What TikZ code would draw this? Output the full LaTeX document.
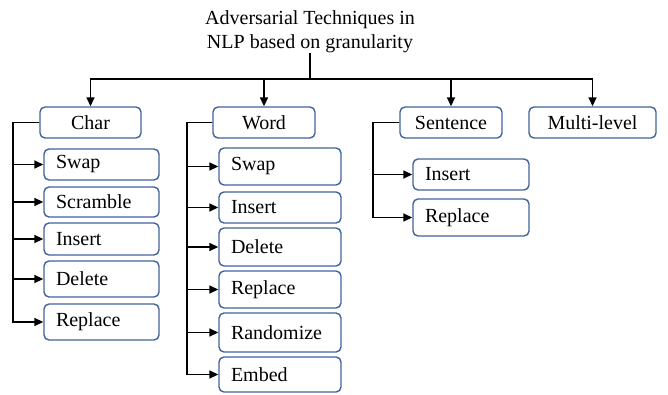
\documentclass[tikz,border=0pt]{standalone}
\usepackage{fontspec}
\setmainfont{Liberation Serif}
\usepackage{tikz}
\usetikzlibrary{arrows.meta}

\definecolor{boxblue}{RGB}{66,98,158}

\begin{document}
\begin{tikzpicture}[x=1pt,y=-1pt,
  font=\rmfamily\fontsize{20}{24}\selectfont,
  cat/.style={draw=boxblue,line width=1.4pt,rounded corners=5pt,
    minimum width=#1,minimum height=31pt,inner sep=0pt},
  leaf/.style={draw=boxblue,line width=1.4pt,rounded corners=5pt,
    text width=#1,align=left,inner xsep=12pt,inner ysep=0pt},
  arr/.style={line width=1.6pt,-{Triangle[length=9pt,width=8pt]}},
  line/.style={line width=1.6pt}]
\useasboundingbox (0,0) rectangle (668,394);

% root
\node [align=center,inner sep=0pt,anchor=south] (root) at (310,53)
  {Adversarial Techniques in\\NLP based on granularity};
\coordinate (bus) at (310,79);

% granularity levels
\node [cat=101pt] (char) at (90.5,122.5) {Char};
\node [cat=102pt] (word) at (264,122.5) {Word};
\node [cat=102pt] (sent) at (451,122.5) {Sentence};
\node [cat=127pt] (multi) at (592.5,122.5) {Multi-level};

% char level
\node [leaf=91pt,minimum height=31pt] (c1) at (101.5,164.5) {Swap};
\node [leaf=91pt,minimum height=30pt] (c2) at (101.5,202) {Scramble};
\node [leaf=91pt,minimum height=32pt] (c3) at (101.5,239) {Insert};
\node [leaf=91pt,minimum height=36pt] (c4) at (101.5,279) {Delete};
\node [leaf=91pt,minimum height=36pt] (c5) at (101.5,322) {Replace};

% word level
\node [leaf=98pt,minimum height=37pt] (w1) at (280,166.5) {Swap};
\node [leaf=98pt,minimum height=31pt] (w2) at (280,207.5) {Insert};
\node [leaf=98pt,minimum height=38pt] (w3) at (280,247) {Delete};
\node [leaf=98pt,minimum height=37pt] (w4) at (280,289.5) {Replace};
\node [leaf=98pt,minimum height=39pt] (w5) at (280,332.5) {Randomize};
\node [leaf=98pt,minimum height=35pt] (w6) at (280,374.5) {Embed};

% sentence level
\node [leaf=92pt,minimum height=31pt] (s1) at (471,174.5) {Insert};
\node [leaf=92pt,minimum height=37pt] (s2) at (471,217.5) {Replace};

% connectors
\draw [line] (root.south) -- (bus);
\foreach \n in {char,word,sent,multi}
  \draw [arr] (bus) -| (\n.north);

\coordinate (ct) at (13,122.5);
\coordinate (wt) at (187,122.5);
\coordinate (st) at (373,122.5);
\foreach \n in {c1,c2,c3,c4,c5}
  \draw [arr] (char.west) -- (ct) |- (\n.west);
\foreach \n in {w1,w2,w3,w4,w5,w6}
  \draw [arr] (word.west) -- (wt) |- (\n.west);
\foreach \n in {s1,s2}
  \draw [arr] (sent.west) -- (st) |- (\n.west);
\end{tikzpicture}
\end{document}
